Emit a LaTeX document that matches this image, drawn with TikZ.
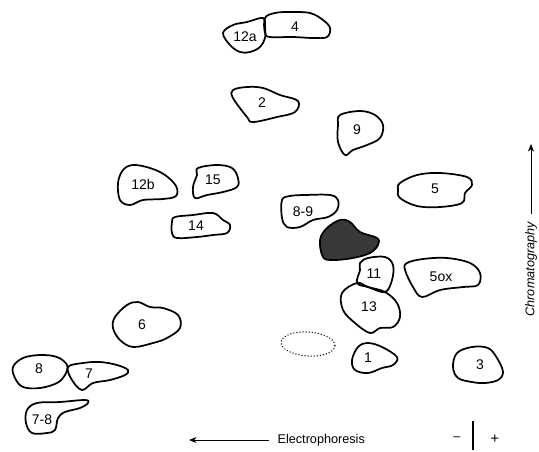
\documentclass[tikz,border=0pt]{standalone}
\usepackage{fontspec}
\setmainfont{Liberation Sans}
\usetikzlibrary{arrows.meta}
\tikzset{
  % ---- spots ------------------------------------------------------------
  spot/.style={draw=black, line width=1.3pt, line join=round},
  darkspot/.style={spot, fill=black!78},
  faintspot/.style={draw=black, line width=1.1pt, line cap=round,
                    dash pattern=on 0.01pt off 2.3pt},
  % ---- labels -----------------------------------------------------------
  lab/.style={font=\fontsize{10.5}{12}\selectfont, inner sep=1pt},
  axislbl/.style={font=\fontsize{9.5}{11}\selectfont, inner sep=1pt},
  % ---- arrows -----------------------------------------------------------
  ar/.style={-{Stealth[length=2mm,width=1.6mm]}, line width=0.6pt},
}
\newcommand{\spotline}[2][spot]{%
  \draw[#1] plot[smooth cycle, tension=0.6] coordinates {#2};}

\begin{document}
\begin{tikzpicture}[x=0.75pt,y=-0.75pt]
\useasboundingbox (0,0) rectangle (539,451);

% ============================ spots =======================================
\spotline{(223,33) (233,25) (247,22) (263,18) (265,27) (265,38) (260,47) (250,52) (240,52) (230,45)}
\spotline{(265,18) (275,13) (290,12) (310,13) (323,20) (330,28) (327,37) (313,38) (293,37) (270,37) (265,33)}
\spotline{(233,90) (247,87) (263,88) (280,95) (298,101) (295,112) (277,117) (253,122) (247,117) (233,98)}
\spotline{(340,115) (360,111) (375,115) (383,125) (380,138) (367,145) (353,150) (345,155) (338,142) (338,125)}
\spotline{(123,170) (133,165) (150,168) (165,175) (176,186) (176,196) (163,199) (143,200) (130,205) (120,200) (118,183)}
\spotline{(198,168) (217,165) (232,168) (238,178) (237,187) (223,192) (207,195) (195,198) (193,187) (197,175)}
\spotline{(175,217) (193,215) (213,213) (223,220) (230,225) (227,233) (213,235) (197,237) (177,238) (172,233) (172,222)}
\spotline{(400,183) (417,175) (440,173) (467,177) (472,185) (465,193) (462,203) (440,207) (417,206) (400,198) (398,190)}
\spotline{(282,200) (290,196) (305,195) (330,195) (338,200) (337,210) (328,217) (313,220) (300,227) (287,227) (282,218)}
\spotline[darkspot]{(320,240) (327,228) (340,220) (350,222) (360,232) (377,238) (378,245) (370,253) (353,258) (333,260) (323,257)}
\spotline{(360,263) (368,258) (385,257) (393,265) (392,280) (385,292) (368,287) (357,283) (360,270)}
\spotline{(357,283) (368,287) (385,292) (397,303) (400,317) (393,327) (380,328) (370,333) (355,323) (343,310) (342,293)}
\spotline{(407,263) (423,259) (447,258) (470,263) (480,273) (478,285) (463,287) (440,290) (422,297) (413,287) (405,270)}
\spotline{(115,317) (127,305) (138,302) (150,307) (163,308) (178,315) (180,328) (167,338) (153,343) (133,347) (120,340) (113,328)}
\spotline{(358,347) (368,343) (382,347) (397,357) (393,365) (382,368) (368,373) (355,370) (352,360)}
\spotline{(457,353) (472,347) (488,348) (497,358) (503,372) (498,380) (485,383) (472,382) (458,378) (453,367)}
\spotline{(13,367) (23,358) (40,355) (57,357) (67,365) (65,375) (57,383) (40,388) (23,387) (15,378)}
\spotline{(68,367) (83,363) (100,362) (117,365) (128,370) (125,375) (110,380) (93,383) (82,390) (72,380)}
\spotline{(27,410) (37,403) (60,402) (85,400) (88,403) (80,408) (65,412) (58,418) (55,430) (47,433) (32,433) (26,423)}
\draw[faintspot, rotate around={-4:(308,344)}] (308,344) ellipse [x radius=27, y radius=12];

% ============================ labels ======================================
\node[lab] (l12a) at (245,37)  {12a};
\node[lab] (l4)   at (295,27)  {4};
\node[lab] (l2)   at (262,103) {2};
\node[lab] (l9)   at (357,130) {9};
\node[lab] (l12b) at (143,184) {12b};
\node[lab] (l15)  at (213,180) {15};
\node[lab] (l14)  at (196,226) {14};
\node[lab] (l5)   at (435,189) {5};
\node[lab] (l89)  at (303,212) {8-9};
\node[lab] (l11)  at (374,274) {11};
\node[lab] (l13)  at (369,307) {13};
\node[lab] (l5ox) at (441,277) {5ox};
\node[lab] (l6)   at (142,325) {6};
\node[lab] (l1)   at (368,358) {1};
\node[lab] (l3)   at (480,365) {3};
\node[lab] (l8)   at (39,369)  {8};
\node[lab] (l7)   at (89,374)  {7};
\node[lab] (l78)  at (42,420)  {7-8};

% ============================ axes ========================================
\node[axislbl, anchor=west] (elec) at (276,440) {Electrophoresis};
\coordinate (elecend) at (189,440);
\draw[ar, shorten <=5pt] (elec.west) -- (elecend);

\node[axislbl, anchor=west, rotate=90, font=\fontsize{9.5}{11}\selectfont\itshape]
  (chrom) at (531,318) {Chromatography};
\coordinate (chromend) at (531,144);
\draw[ar, shorten <=5pt] (chrom.east) -- (chromend);

\node[axislbl] (minus) at (457,439) {–};
\node[axislbl, font=\fontsize{11}{12}\selectfont] (plus) at (495,439) {+};
\coordinate (bartop) at (473,421);
\coordinate (barbot) at (473,450);
\draw[line width=0.8pt] (bartop) -- (barbot);

\end{tikzpicture}
\end{document}
